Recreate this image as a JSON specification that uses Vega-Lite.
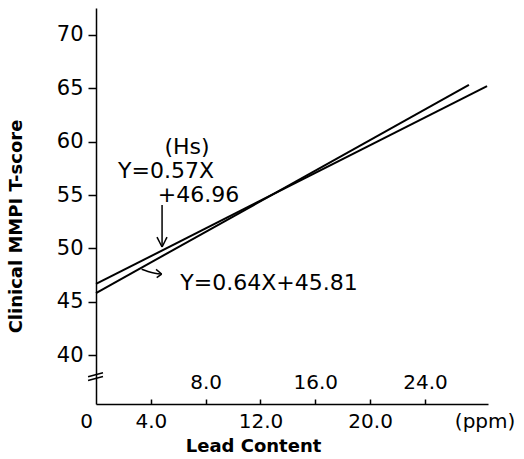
{
  "$schema": "https://vega.github.io/schema/vega-lite/v6.json",
  "width": 392,
  "height": 396,
  "autosize": {"type": "none"},
  "padding": {"left": 96, "top": 8, "right": 36, "bottom": 55},
  "background": "white",
  "config": {
    "view": {"stroke": null},
    "font": "DejaVu Sans",
    "axis": {
      "grid": false,
      "domainColor": "black",
      "tickColor": "black",
      "labelColor": "black",
      "titleColor": "black",
      "domainWidth": 1.5,
      "tickWidth": 1.5,
      "labelFont": "DejaVu Sans",
      "titleFont": "DejaVu Sans"
    }
  },
  "datasets": {
    "lines": [
      {"series": "Hs 0.57X+46.96", "x": 0, "y": 46.68},
      {"series": "Hs 0.57X+46.96", "x": 28.53, "y": 65.2},
      {"series": "0.64X+45.81", "x": 0, "y": 45.83},
      {"series": "0.64X+45.81", "x": 27.21, "y": 65.3}
    ],
    "curve": [
      {"x": 3.33, "y": 48.05},
      {"x": 3.79, "y": 47.85},
      {"x": 4.3, "y": 47.69},
      {"x": 4.79, "y": 47.61}
    ],
    "segments": [
      {"x": 4.82, "y": 54.07, "x2": 4.82, "y2": 50.14},
      {"x": 4.45, "y": 51.07, "x2": 4.82, "y2": 50.14},
      {"x": 5.18, "y": 51.07, "x2": 4.82, "y2": 50.14},
      {"x": 4.38, "y": 48.05, "x2": 4.79, "y2": 47.61},
      {"x": 4.43, "y": 47.27, "x2": 4.79, "y2": 47.61},
      {"x": -0.58, "y": 38.0, "x2": 0.51, "y2": 38.38},
      {"x": -0.58, "y": 37.65, "x2": 0.51, "y2": 38.02}
    ],
    "labels": [
      {"x": 6.64, "y": 58.8, "label": "(Hs)"},
      {"x": 5.11, "y": 56.55, "label": "Y=0.57X"},
      {"x": 7.48, "y": 54.35, "label": "+46.96"},
      {"x": 12.62, "y": 46.12, "label": "Y=0.64X+45.81"}
    ]
  },
  "encoding": {
    "x": {
      "field": "x",
      "type": "quantitative",
      "scale": {"domain": [0, 28.6], "nice": false, "zero": false},
      "axis": {
        "title": "Lead Content",
        "titleFontWeight": "bold",
        "titleFontSize": 18,
        "titleX": 157,
        "titleY": 42,
        "titleBaseline": "middle",
        "titleAlign": "center",
        "values": [0, 4, 8, 12, 16, 20, 24, 28.35],
        "labelExpr": "datum.value == 0 ? '0' : datum.value > 28 ? '(ppm)' : format(datum.value, '.1f')",
        "labelFontSize": 20,
        "labelFlush": false,
        "labelOverlap": false,
        "labelBaseline": "top",
        "labelAlign": "center",
        "labelPadding": {"condition": {"test": "datum.value == 8 || datum.value == 16 || datum.value == 24", "value": -27}, "value": 12},
        "labelOffset": {"condition": {"test": "datum.value == 0", "value": -10}, "value": 0},
        "tickSize": -5,
        "tickOpacity": {"condition": {"test": "datum.value == 0 || datum.value > 28", "value": 0}, "value": 1}
      }
    },
    "y": {
      "field": "y",
      "type": "quantitative",
      "scale": {"domain": [35.45, 72.5], "nice": false, "zero": false},
      "axis": {
        "title": "Clinical MMPI T-score",
        "titleFontWeight": "bold",
        "titleFontSize": 18,
        "titleX": -80,
        "titleY": 218,
        "titleBaseline": "middle",
        "titleAlign": "center",
        "titleAngle": -90,
        "values": [40, 45, 50, 55, 60, 65, 70],
        "labelFontSize": 21,
        "tickSize": 8,
        "labelPadding": 5,
        "labelFlush": false
      }
    }
  },
  "layer": [
    {
      "data": {"name": "lines"},
      "mark": {"type": "line", "color": "black", "strokeWidth": 2},
      "encoding": {"detail": {"field": "series", "type": "nominal"}}
    },
    {
      "data": {"name": "curve"},
      "mark": {"type": "line", "color": "black", "strokeWidth": 1.5, "interpolate": "monotone"},
      "encoding": {}
    },
    {
      "data": {"name": "segments"},
      "mark": {"type": "rule", "color": "black", "strokeWidth": 1.5},
      "encoding": {
        "x2": {"field": "x2"},
        "y2": {"field": "y2"}
      }
    },
    {
      "data": {"name": "labels"},
      "mark": {"type": "text", "color": "black", "fontSize": 22, "font": "DejaVu Sans", "align": "center", "baseline": "alphabetic"},
      "encoding": {"text": {"field": "label", "type": "nominal"}}
    }
  ]
}
